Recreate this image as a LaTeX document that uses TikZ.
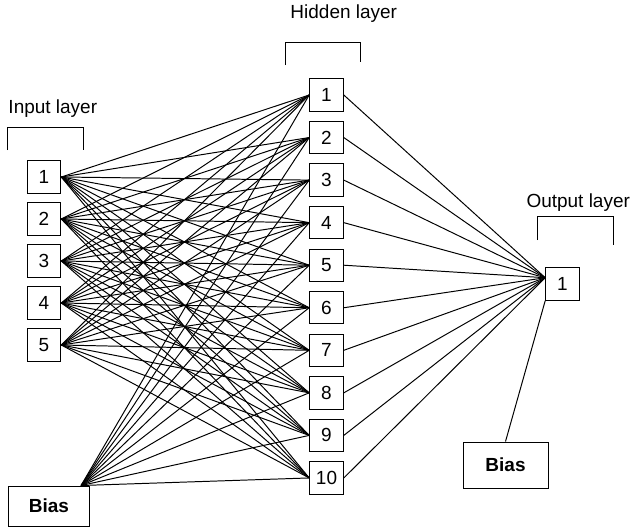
\documentclass[tikz,border=0pt]{standalone}
\usepackage{fontspec}
\setmainfont{Liberation Sans}
\begin{document}
\begin{tikzpicture}[x=0.025cm,y=-0.025cm,line width=0.7pt,
        unit/.style={draw,rectangle,inner sep=0pt,minimum width=0.84cm,minimum height=0.81cm,font=\fontsize{13.5}{16}\selectfont},
        biasbox/.style={draw,rectangle,inner sep=0pt,font=\bfseries\fontsize{13.5}{16}\selectfont},
        layername/.style={anchor=base west,inner sep=0pt,font=\fontsize{13.5}{16}\selectfont}]
        \useasboundingbox (0,0) rectangle (635,526);
        % input layer
        \node[layername] (inname) at (8,113) {Input layer};
        \draw (7,150) -- (7,127) -- (83,127) -- (83,150);
        \foreach \i in {1,...,5}
            \node[unit] (in\i) at (44,{177+42*(\i-1)}) {\i};
        \node[biasbox,minimum width=2cm,minimum height=1cm] (biasA) at (49,506) {Bias};
        % hidden layer
        \node[layername] (hidname) at (290,18) {Hidden layer};
        \draw (285,65) -- (285,42) -- (360,42) -- (360,62);
        \foreach \j in {1,...,10}
            \node[unit] (hid\j) at (326.5,{95+42.55*(\j-1)}) {\j};
        % output layer
        \node[layername] (outname) at (526,207) {Output layer};
        \draw (537,240) -- (537,216) -- (613,216) -- (613,245);
        \node[unit] (out1) at (562.5,284) {1};
        \node[biasbox,minimum width=2.125cm,minimum height=1.15cm] (biasB) at (505.5,465) {Bias};
        % connections
        \foreach \i in {1,...,5}
            \foreach \j in {1,...,10}
                \draw (in\i.east) -- (hid\j.west);
        \foreach \j in {1,...,10}
            \draw ([xshift=-6pt]biasA.north east) -- (hid\j.west);
        \foreach \j in {1,...,10}
            \draw (hid\j.east) -- (out1.160);
        \draw (biasB.north) -- (out1.south west);
    \end{tikzpicture}
\end{document}
